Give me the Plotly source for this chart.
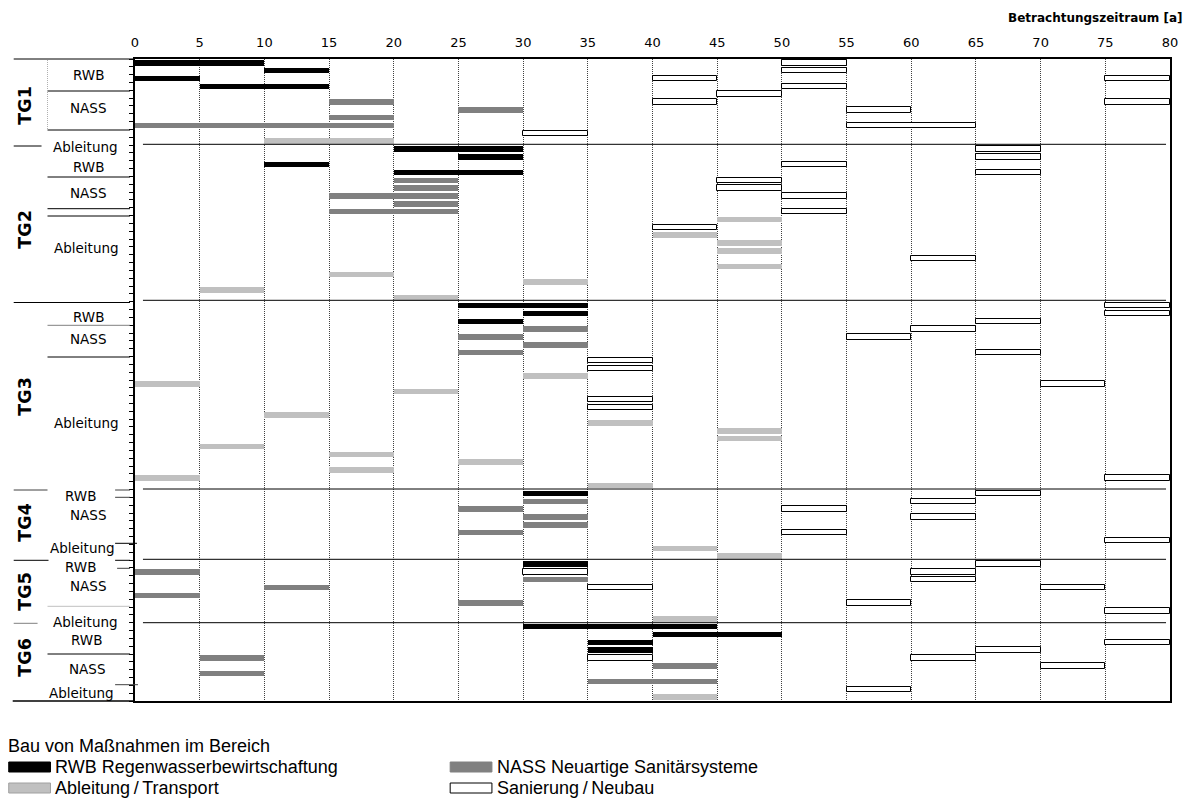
import plotly.graph_objects as go

# ---- measures per building type: start year, end year, row index (0 = top row) ----
rwb_start = [0, 10, 0, 5, 20, 25, 10, 20, 25, 30, 25, 30, 30, 30, 40, 35, 35]
rwb_end = [10, 15, 5, 15, 30, 30, 15, 30, 35, 35, 30, 35, 35, 45, 50, 40, 40]
rwb_row = [0, 1, 2, 3, 11, 12, 13, 14, 31, 32, 33, 55, 64, 72, 73, 74, 75]

nass_start = [15, 25, 15, 0, 20, 20, 15, 20, 15, 30, 25, 30, 25,
              30, 25, 30, 30, 25, 0, 30, 10, 0, 25, 5, 40, 5, 35]
nass_end = [20, 30, 20, 20, 25, 25, 25, 25, 25, 35, 30, 35, 30,
            35, 30, 35, 35, 30, 5, 35, 15, 5, 30, 10, 45, 10, 45]
nass_row = [5, 6, 7, 8, 15, 16, 17, 18, 19, 34, 35, 36, 37,
            56, 57, 58, 59, 60, 65, 66, 67, 68, 69, 76, 77, 78, 79]

abl_start = [10, 45, 40, 45, 45, 45, 15, 30, 5, 20, 30, 0, 20, 10, 35, 45, 45,
             5, 15, 25, 15, 0, 35, 40, 45, 40, 40]
abl_end = [20, 50, 45, 50, 50, 50, 20, 35, 10, 25, 35, 5, 25, 15, 40, 50, 50,
           10, 20, 30, 20, 5, 40, 45, 50, 45, 45]
abl_row = [10, 20, 22, 23, 24, 26, 27, 28, 29, 30, 40, 41, 42, 45, 46, 47, 48,
           49, 50, 51, 52, 53, 54, 62, 63, 71, 81]

san_start = [50, 50, 40, 75, 50, 45, 40, 75, 55, 55, 30,
             65, 65, 50, 65, 45, 45, 50, 50, 40, 60,
             75, 75, 65, 60, 55, 65, 35, 35, 70, 35, 35, 75,
             65, 60, 50, 60, 50, 75,
             65, 30, 60, 60, 35, 70, 55, 75,
             75, 65, 35, 60, 70, 55]
san_end = [55, 55, 45, 80, 55, 50, 45, 80, 60, 65, 35,
           70, 70, 55, 70, 50, 50, 55, 55, 45, 65,
           80, 80, 70, 65, 60, 70, 40, 40, 75, 40, 40, 80,
           70, 65, 55, 65, 55, 80,
           70, 35, 65, 65, 40, 75, 60, 80,
           80, 70, 40, 65, 75, 60]
san_row = [0, 1, 2, 2, 3, 4, 5, 5, 6, 8, 9,
           11, 12, 13, 14, 15, 16, 17, 19, 21, 25,
           31, 32, 33, 34, 35, 37, 38, 39, 41, 43, 44, 53,
           55, 56, 57, 58, 60, 61,
           64, 65, 65, 66, 67, 67, 69, 70,
           74, 75, 76, 76, 77, 80]

x_ticks = list(range(0, 81, 5))
n_rows = 82

# ---- row labels in the left margin: text, centre x px, centre y px ----
group_labels = ["TG1", "TG2", "TG3", "TG4", "TG5", "TG6"]
group_label_y = [106, 230, 397, 523, 592, 658]
area_labels = ["RWB", "NASS", "Ableitung"] * 6
area_label_x = [88, 88, 85, 88, 88, 86, 88, 88, 86, 80, 88, 82, 80, 88, 85, 86, 87, 81]
area_label_y = [75, 108, 147, 167, 193, 248, 317, 339, 423, 496, 515, 548,
                567, 586, 622, 640, 669, 693]

# ---- page geometry (pixels) ----
W, H = 1190, 806
L, R, T, B = 135, 1176, 59, 701


def px(x):
    return (x - L) / (R - L)


def py(y):
    return (B - y) / (B - T)


BAR_W = 0.7
fig = go.Figure()


def add_bars(starts, ends, rows, fill, line_color, line_w, name):
    fig.add_trace(go.Bar(
        orientation="h",
        base=starts,
        x=[e - s for s, e in zip(starts, ends)],
        y=rows,
        width=BAR_W,
        marker=dict(color=fill, line=dict(color=line_color, width=line_w)),
        name=name,
        showlegend=False,
    ))


add_bars(abl_start, abl_end, abl_row, "#c0c0c0", "#c0c0c0", 0, "Ableitung")
add_bars(nass_start, nass_end, nass_row, "#808080", "#808080", 0, "NASS")
add_bars(rwb_start, rwb_end, rwb_row, "#000000", "#000000", 0, "RWB")
add_bars(san_start, san_end, san_row, "#ffffff", "#000000", 1, "Sanierung")

shapes = []


def hline(x0, x1, y, color="#000000", width=1, dash="solid"):
    shapes.append(dict(type="line", xref="paper", yref="paper",
                       x0=px(x0), x1=px(x1), y0=py(y), y1=py(y),
                       line=dict(color=color, width=width, dash=dash)))


# separators between the sub-catchments inside the plot
for yy in [144.3, 300.3, 489.0, 559.3, 622.7]:
    hline(143, 1172, yy, "#000000", 1)

# outer frame extensions to the left
hline(13, L, T, "#000000", 1)
hline(12, L, B, "#000000", 1.5)

# label area rules
for x0, x1, yy, col in [
    (47, 130, 91, "#000000"), (47, 130, 130, "#000000"), (13, 41, 146, "#000000"),
    (47, 130, 177, "#000000"), (47, 130, 208.7, "#000000"), (47, 130, 216, "#000000"),
    (13, 130, 302.5, "#000000"), (47, 130, 325.3, "#808080"), (47, 130, 357, "#000000"),
    (13, 47, 490, "#404040"), (115, 130, 490, "#404040"), (115, 130, 497.3, "#404040"),
    (115, 137, 543.3, "#000000"), (13, 48, 560.3, "#000000"), (115, 130, 560.3, "#000000"),
    (117, 130, 568.3, "#404040"), (47, 130, 606.3, "#c0c0c0"), (13, 37, 623.3, "#808080"),
    (47, 130, 654, "#000000"), (115, 138, 684.7, "#404040"),
]:
    hline(x0, x1, yy, col, 1)

shapes.append(dict(type="line", xref="paper", yref="paper",
                   x0=px(47), x1=px(47), y0=py(60), y1=py(130),
                   line=dict(color="#b0b0b0", width=1, dash="1px,1px")))

annotations = []


def label(text, x, y, size, family="DejaVu Sans", xanchor="center", angle=0):
    annotations.append(dict(text=text, x=px(x), y=py(y), xref="paper", yref="paper",
                            xanchor=xanchor, yanchor="middle", showarrow=False,
                            textangle=angle, borderpad=0,
                            font=dict(family=family, size=size, color="#000000")))


for txt, yy in zip(group_labels, group_label_y):
    label("<b>" + txt + "</b>", 24, yy, 17.5, angle=-90)
for txt, xx, yy in zip(area_labels, area_label_x, area_label_y):
    label(txt, xx, yy, 13.5)

label("<b>Betrachtungszeitraum [a]</b>", 1190, 18, 12, xanchor="right")

# legend
label("Bau von Maßnahmen im Bereich", 6, 746, 18, family="Liberation Sans", xanchor="left")
legend_items = [
    ("RWB Regenwasserbewirtschaftung", 8, 767, "#000000", "#000000"),
    ("Ableitung\u2009/\u2009Transport", 8, 788, "#c0c0c0", "#a0a0a0"),
    ("NASS Neuartige Sanitärsysteme", 452, 767, "#808080", "#808080"),
    ("Sanierung\u2009/\u2009Neubau", 452, 788, "#ffffff", "#000000"),
]
for txt, lx, ly, fill, edge in legend_items:
    shapes.append(dict(type="rect", xref="paper", yref="paper",
                       x0=px(lx), x1=px(lx + 42), y0=py(ly - 5), y1=py(ly + 5),
                       fillcolor=fill, line=dict(color=edge, width=1)))
    label(txt, lx + 46, ly, 18, family="Liberation Sans", xanchor="left")

fig.update_layout(
    width=W, height=H,
    margin=dict(l=L, r=W - R, t=T, b=H - B),
    paper_bgcolor="#ffffff", plot_bgcolor="#ffffff",
    barmode="overlay", bargap=0,
    shapes=shapes, annotations=annotations,
    showlegend=False,
    xaxis=dict(range=[0, 80], side="top", tickvals=x_ticks,
               showgrid=True, gridcolor="#404040", griddash="1px,1px", gridwidth=1,
               zeroline=False, showline=True, linecolor="#000000", linewidth=1.5,
               mirror=True, ticks="", ticklabelstandoff=5,
               tickfont=dict(family="DejaVu Sans", size=13, color="#000000")),
    yaxis=dict(range=[n_rows - 0.5, -0.5], tickvals=[i - 0.5 for i in range(n_rows + 1)],
               showticklabels=False, ticks="outside", ticklen=4, tickwidth=1,
               tickcolor="#000000", showgrid=False, zeroline=False,
               showline=True, linecolor="#000000", linewidth=1.5, mirror=True),
)

fig.write_html("out.html")
